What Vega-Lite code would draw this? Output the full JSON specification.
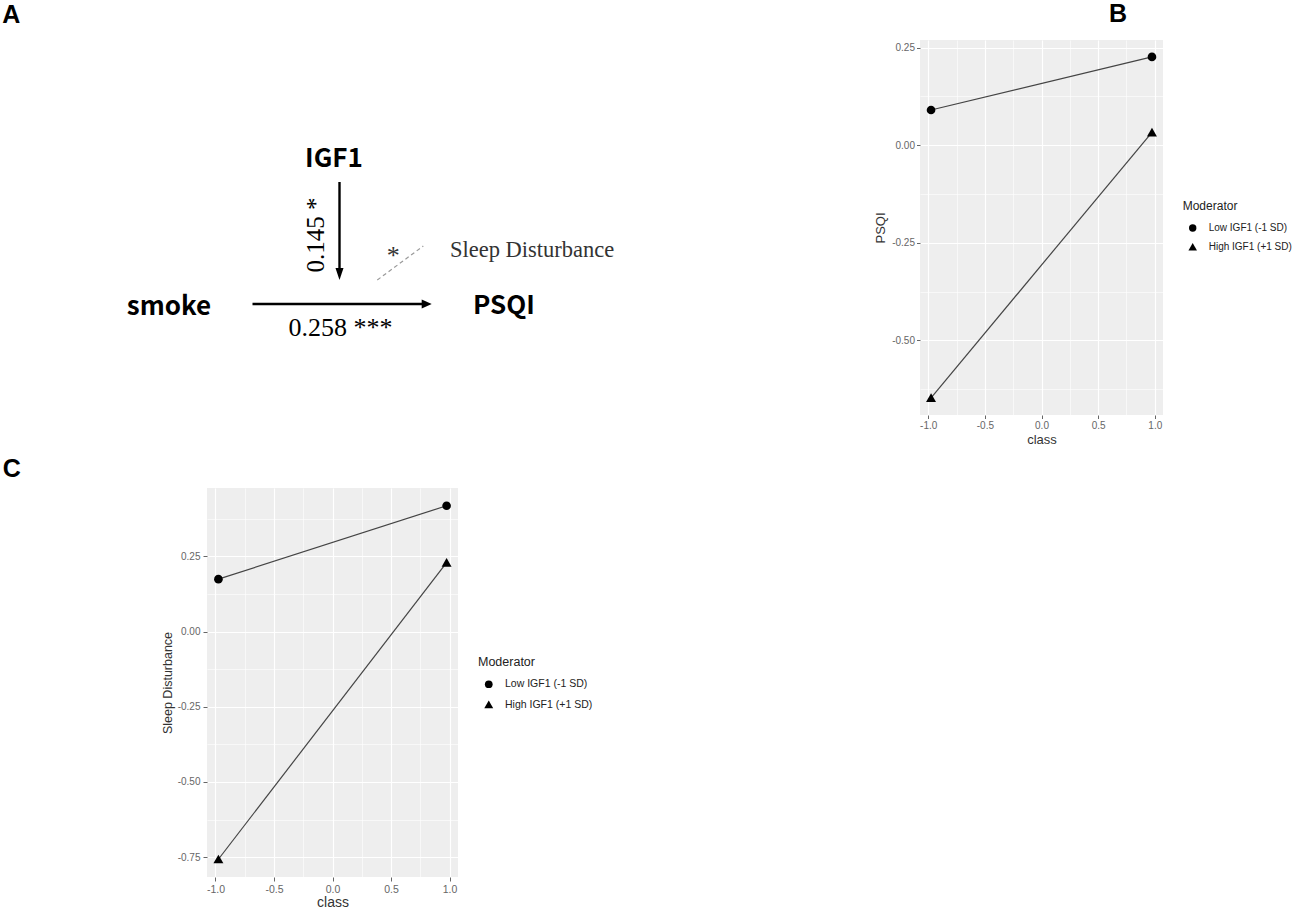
{
  "$schema": "https://vega.github.io/schema/vega-lite/v6.json",
  "background": "white",
  "padding": 0,
  "columns": 3,
  "align": "each",
  "bounds": "flush",
  "spacing": {"row": 10, "column": 10},
  "resolve": {"scale": {"shape": "independent"}, "legend": {"shape": "independent"}},
  "config": {
    "font": "Liberation Sans",
    "view": {"stroke": null},
    "axis": {"domain": false, "labelFont": "Liberation Sans", "titleFont": "Liberation Sans", "titleFontWeight": "normal", "labelColor": "#666666", "titleColor": "#333333", "tickColor": "#666666", "gridColor": "#FFFFFF", "labelFlush": false, "labelOverlap": false},
    "legend": {"labelFont": "Liberation Sans", "titleFont": "Liberation Sans", "titleFontWeight": "normal"}
  },
  "datasets": {
    "psqi": [
      {"class": -0.975, "value": 0.090, "Moderator": "Low IGF1 (-1 SD)"},
      {"class": 0.975, "value": 0.226, "Moderator": "Low IGF1 (-1 SD)"},
      {"class": -0.975, "value": -0.647, "Moderator": "High IGF1 (+1 SD)"},
      {"class": 0.975, "value": 0.033, "Moderator": "High IGF1 (+1 SD)"}
    ],
    "sleep": [
      {"class": -0.975, "value": 0.174, "Moderator": "Low IGF1 (-1 SD)"},
      {"class": 0.975, "value": 0.418, "Moderator": "Low IGF1 (-1 SD)"},
      {"class": -0.975, "value": -0.757, "Moderator": "High IGF1 (+1 SD)"},
      {"class": 0.975, "value": 0.229, "Moderator": "High IGF1 (+1 SD)"}
    ],
    "letters": [
      {"letter": "A", "x": 1.12, "y": 2.3},
      {"letter": "B", "x": 111.8, "y": 2.2},
      {"letter": "C", "x": 1.17, "y": 47.65}
    ],
    "nodes": [
      {"name": "IGF1", "x": 33.4, "y": 16.7},
      {"name": "smoke", "x": 16.9, "y": 31.5},
      {"name": "PSQI", "x": 50.4, "y": 31.4}
    ],
    "edges": [
      {"from": "IGF1", "x": 33.95, "y": 18.2, "x2": 33.95, "y2": 27.0},
      {"from": "smoke", "x": 25.25, "y": 30.4, "x2": 42.3, "y2": 30.4}
    ],
    "heads": [
      {"edge": "IGF1", "x": 33.95, "y": 27.4},
      {"edge": "smoke", "x": 42.67, "y": 30.4}
    ],
    "moderation": [
      {"x": 37.73, "y": 28.0, "x2": 42.33, "y2": 24.6}
    ],
    "coefs": [
      {"text": "0.258 ***", "x": 34.05, "y": 33.6}
    ],
    "coefRot": [
      {"text": "0.145 *", "x": 31.6, "y": 23.5}
    ],
    "modLabel": [
      {"text": "*", "x": 39.33, "y": 26.4}
    ],
    "outcome2": [
      {"text": "Sleep Disturbance", "x": 45.0, "y": 25.7}
    ]
  },
  "concat": [
    {"width": 197, "height": 30, "data": {"values": []}, "mark": {"type": "point", "opacity": 0}},
    {"width": 703, "height": 30, "data": {"values": []}, "mark": {"type": "point", "opacity": 0}},
    {"width": 243, "height": 30, "data": {"values": []}, "mark": {"type": "point", "opacity": 0}},
    {"width": 197, "height": 375, "data": {"values": []}, "mark": {"type": "point", "opacity": 0}},
    {
      "width": 703, "height": 375,
      "encoding": {
        "x": {"field": "x", "type": "quantitative", "scale": {"domain": [20.7, 91.0], "nice": false, "zero": false}, "axis": null},
        "y": {"field": "y", "type": "quantitative", "scale": {"domain": [4.0, 41.5], "reverse": true, "nice": false, "zero": false}, "axis": null}
      },
      "layer": [
        {"data": {"name": "moderation"}, "mark": {"type": "rule", "color": "#9a9a9a", "strokeWidth": 1.2, "strokeDash": [4, 3]}, "encoding": {"x2": {"field": "x2"}, "y2": {"field": "y2"}}},
        {"data": {"name": "edges"}, "mark": {"type": "rule", "color": "black", "strokeWidth": 2.4}, "encoding": {"x2": {"field": "x2"}, "y2": {"field": "y2"}}},
        {"data": {"name": "heads"}, "transform": [{"filter": "datum.edge === 'IGF1'"}], "mark": {"type": "point", "shape": "M-0.67,-1L0.67,-1L0,1Z", "size": 144, "filled": true, "color": "black", "opacity": 1, "strokeWidth": 0}},
        {"data": {"name": "heads"}, "transform": [{"filter": "datum.edge === 'smoke'"}], "mark": {"type": "point", "shape": "M-1,-0.9L1,0L-1,0.9Z", "size": 100, "filled": true, "color": "black", "opacity": 1, "strokeWidth": 0}},
        {"data": {"name": "nodes"}, "mark": {"type": "text", "font": "Noto Sans CJK SC", "fontWeight": "bold", "fontSize": 26, "align": "center", "baseline": "alphabetic", "color": "black"}, "encoding": {"text": {"field": "name"}}},
        {"data": {"name": "coefs"}, "mark": {"type": "text", "font": "Liberation Serif", "fontSize": 26, "align": "center", "baseline": "alphabetic", "color": "black"}, "encoding": {"text": {"field": "text"}}},
        {"data": {"name": "coefRot"}, "mark": {"type": "text", "font": "Liberation Serif", "fontSize": 25, "align": "center", "baseline": "middle", "angle": 270, "color": "black"}, "encoding": {"text": {"field": "text"}}},
        {"data": {"name": "modLabel"}, "mark": {"type": "text", "font": "Liberation Serif", "fontSize": 26, "align": "center", "baseline": "alphabetic", "color": "#333333"}, "encoding": {"text": {"field": "text"}}},
        {"data": {"name": "outcome2"}, "mark": {"type": "text", "font": "Liberation Serif", "fontSize": 22.5, "align": "left", "baseline": "alphabetic", "color": "#333333"}, "encoding": {"text": {"field": "text"}}},
        {"data": {"name": "letters"}, "mark": {"type": "text", "font": "Liberation Sans", "fontWeight": "bold", "fontSize": 25, "align": "center", "baseline": "alphabetic", "color": "black"}, "encoding": {"text": {"field": "letter"}}}
      ]
    },
    {
      "width": 243, "height": 375,
      "view": {"fill": "#EEEEEE", "stroke": null},
      "data": {"name": "psqi"},
      "encoding": {
        "x": {"field": "class", "type": "quantitative",
          "scale": {"domain": [-1.0725, 1.0725], "nice": false, "zero": false},
          "axis": {"title": "class", "values": [-1, -0.75, -0.5, -0.25, 0, 0.25, 0.5, 0.75, 1],
            "labelExpr": "abs(datum.value*2 - round(datum.value*2)) < 0.001 ? replace(format(datum.value, '.1f'), '\u2212', '-') : ''",
            "labelFontSize": 10, "titleFontSize": 13, "tickSize": 3.5, "labelPadding": 2, "titlePadding": 3,
            "tickOpacity": {"condition": {"test": "abs(datum.value*2 - round(datum.value*2)) > 0.001", "value": 0}, "value": 1},
            "gridWidth": {"condition": {"test": "abs(datum.value*2 - round(datum.value*2)) > 0.001", "value": 0.6}, "value": 1.2}}},
        "y": {"field": "value", "type": "quantitative",
          "scale": {"domain": [-0.691, 0.2693], "nice": false, "zero": false},
          "axis": {"title": "PSQI", "values": [-0.625, -0.5, -0.375, -0.25, -0.125, 0, 0.125, 0.25],
            "labelExpr": "abs(datum.value*4 - round(datum.value*4)) < 0.001 ? replace(format(datum.value, '.2f'), '\u2212', '-') : ''",
            "labelFontSize": 10, "titleFontSize": 13, "tickSize": 3.5, "labelPadding": 2, "titlePadding": 4,
            "tickOpacity": {"condition": {"test": "abs(datum.value*4 - round(datum.value*4)) > 0.001", "value": 0}, "value": 1},
            "gridWidth": {"condition": {"test": "abs(datum.value*4 - round(datum.value*4)) > 0.001", "value": 0.6}, "value": 1.2}}}
      },
      "layer": [
        {"mark": {"type": "line", "color": "#444444", "strokeWidth": 1.2}, "encoding": {"detail": {"field": "Moderator"}}},
        {"mark": {"type": "point", "filled": true, "color": "black", "opacity": 1, "size": 75},
          "encoding": {"shape": {"field": "Moderator", "type": "nominal",
            "scale": {"domain": ["Low IGF1 (-1 SD)", "High IGF1 (+1 SD)"], "range": ["circle", "M0,-1.05L1.15,0.95L-1.15,0.95Z"]},
            "legend": {"orient": "none", "legendX": 262.7, "legendY": 161, "title": "Moderator", "titleFontSize": 12, "titleColor": "#222222", "labelFontSize": 10, "labelColor": "#222222", "symbolSize": 55, "symbolFillColor": "black", "symbolStrokeColor": "black", "symbolOffset": 5, "labelOffset": 11, "rowPadding": 5, "titlePadding": 10}}}}
      ]
    },
    {"width": 197, "height": 53, "data": {"values": []}, "mark": {"type": "point", "opacity": 0}},
    {"width": 703, "height": 53, "data": {"values": []}, "mark": {"type": "point", "opacity": 0}},
    {"width": 243, "height": 53, "data": {"values": []}, "mark": {"type": "point", "opacity": 0}},
    {"width": 197, "height": 389, "data": {"values": []}, "mark": {"type": "point", "opacity": 0}},
    {
      "width": 251, "height": 389,
      "view": {"fill": "#EEEEEE", "stroke": null},
      "data": {"name": "sleep"},
      "encoding": {
        "x": {"field": "class", "type": "quantitative",
          "scale": {"domain": [-1.0725, 1.0725], "nice": false, "zero": false},
          "axis": {"title": "class", "values": [-1, -0.75, -0.5, -0.25, 0, 0.25, 0.5, 0.75, 1],
            "labelExpr": "abs(datum.value*2 - round(datum.value*2)) < 0.001 ? replace(format(datum.value, '.1f'), '\u2212', '-') : ''",
            "labelFontSize": 10.5, "titleFontSize": 14, "tickSize": 4, "labelPadding": 3, "titlePadding": 1,
            "tickOpacity": {"condition": {"test": "abs(datum.value*2 - round(datum.value*2)) > 0.001", "value": 0}, "value": 1},
            "gridWidth": {"condition": {"test": "abs(datum.value*2 - round(datum.value*2)) > 0.001", "value": 0.6}, "value": 1.2}}},
        "y": {"field": "value", "type": "quantitative",
          "scale": {"domain": [-0.816, 0.477], "nice": false, "zero": false},
          "axis": {"title": "Sleep Disturbance", "values": [-0.75, -0.625, -0.5, -0.375, -0.25, -0.125, 0, 0.125, 0.25, 0.375],
            "labelExpr": "abs(datum.value*4 - round(datum.value*4)) < 0.001 ? replace(format(datum.value, '.2f'), '\u2212', '-') : ''",
            "labelFontSize": 10, "titleFontSize": 12.5, "tickSize": 4, "labelPadding": 3, "titlePadding": 3,
            "tickOpacity": {"condition": {"test": "abs(datum.value*4 - round(datum.value*4)) > 0.001", "value": 0}, "value": 1},
            "gridWidth": {"condition": {"test": "abs(datum.value*4 - round(datum.value*4)) > 0.001", "value": 0.6}, "value": 1.2}}}
      },
      "layer": [
        {"mark": {"type": "line", "color": "#444444", "strokeWidth": 1.2}, "encoding": {"detail": {"field": "Moderator"}}},
        {"mark": {"type": "point", "filled": true, "color": "black", "opacity": 1, "size": 75},
          "encoding": {"shape": {"field": "Moderator", "type": "nominal",
            "scale": {"domain": ["Low IGF1 (-1 SD)", "High IGF1 (+1 SD)"], "range": ["circle", "M0,-1.05L1.15,0.95L-1.15,0.95Z"]},
            "legend": {"orient": "none", "legendX": 271, "legendY": 167.5, "title": "Moderator", "titleFontSize": 12.5, "titleColor": "#222222", "labelFontSize": 10.5, "labelColor": "#222222", "symbolSize": 60, "symbolFillColor": "black", "symbolStrokeColor": "black", "symbolOffset": 5.5, "labelOffset": 11, "rowPadding": 5.4, "titlePadding": 11}}}}
      ]
    }
  ]
}
